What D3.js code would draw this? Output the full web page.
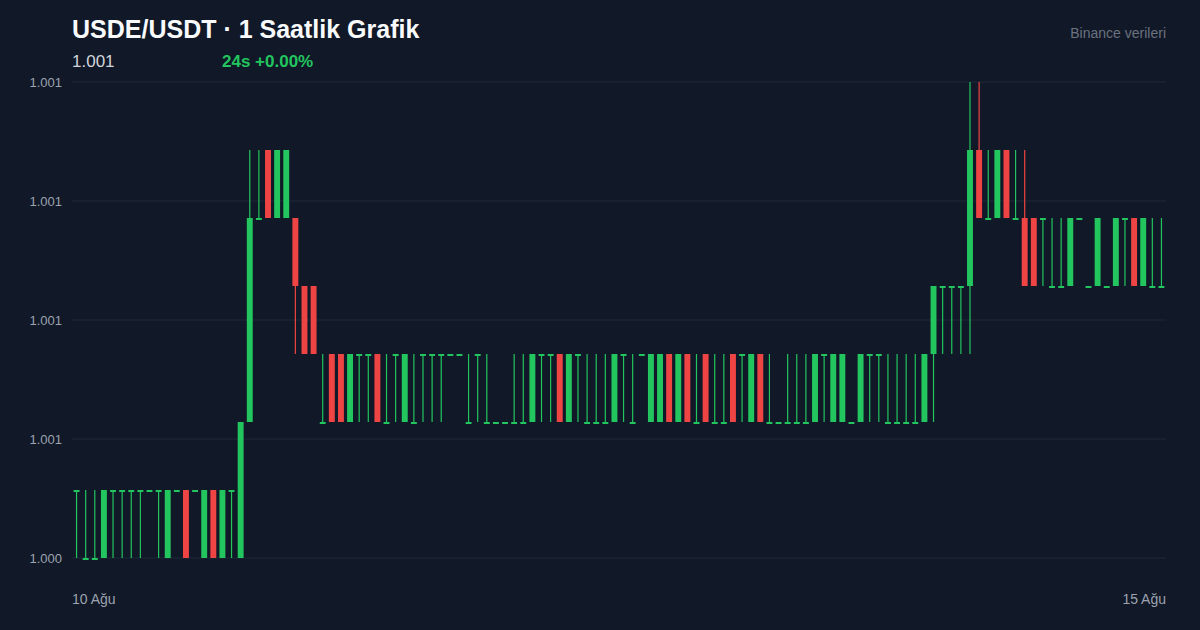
<!DOCTYPE html>
<html>
<head>
<meta charset="utf-8">
<script src="https://cdn.jsdelivr.net/npm/d3@7"></script>
<style>
  html, body { margin: 0; padding: 0; background: #111827; }
  svg { display: block; }
</style>
</head>
<body>
<svg id="chart" width="1200" height="630"></svg>
<script>
// ---- Data (USDE/USDT hourly candles, 10–15 Aug) ----
const opens = [
  1.0005,1.0004,1.0004,1.0004,1.0005,1.0005,1.0005,1.0005,1.0005,1.0005,
  1.0004,1.0005,1.0005,1.0005,1.0004,1.0005,1.0004,1.0005,1.0004,1.0006,
  1.0009,1.0010,1.0009,1.0009,1.0009,1.0008,1.0008,1.0006,1.0007,1.0007,
  1.0006,1.0007,1.0007,1.0007,1.0006,1.0007,1.0006,1.0006,1.0007,1.0007,
  1.0007,1.0007,1.0007,1.0006,1.0007,1.0006,1.0006,1.0006,1.0006,1.0006,
  1.0006,1.0007,1.0007,1.0007,1.0006,1.0007,1.0006,1.0006,1.0006,1.0006,
  1.0007,1.0006,1.0007,1.0006,1.0006,1.0007,1.0006,1.0007,1.0006,1.0007,
  1.0006,1.0006,1.0007,1.0007,1.0006,1.0007,1.0006,1.0006,1.0006,1.0006,
  1.0006,1.0006,1.0007,1.0006,1.0006,1.0006,1.0006,1.0007,1.0007,1.0006,
  1.0006,1.0006,1.0006,1.0006,1.0007,1.0008,1.0008,1.0008,1.0008,1.0010,
  1.0009,1.0009,1.0010,1.0009,1.0009,1.0009,1.0009,1.0008,1.0008,1.0008,
  1.0009,1.0008,1.0008,1.0008,1.0008,1.0009,1.0009,1.0008,1.0008,1.0008
];
const closes = [
  1.0005,1.0004,1.0004,1.0005,1.0005,1.0005,1.0005,1.0005,1.0005,1.0005,
  1.0005,1.0005,1.0004,1.0005,1.0005,1.0004,1.0005,1.0005,1.0006,1.0009,
  1.0009,1.0009,1.0010,1.0010,1.0008,1.0007,1.0007,1.0006,1.0006,1.0006,
  1.0007,1.0007,1.0007,1.0006,1.0006,1.0007,1.0007,1.0006,1.0007,1.0007,
  1.0007,1.0007,1.0007,1.0006,1.0007,1.0006,1.0006,1.0006,1.0006,1.0006,
  1.0007,1.0007,1.0007,1.0006,1.0007,1.0007,1.0006,1.0006,1.0006,1.0007,
  1.0007,1.0006,1.0007,1.0007,1.0007,1.0006,1.0007,1.0006,1.0006,1.0006,
  1.0006,1.0006,1.0006,1.0007,1.0007,1.0006,1.0006,1.0006,1.0006,1.0006,
  1.0006,1.0007,1.0007,1.0007,1.0007,1.0006,1.0007,1.0007,1.0007,1.0006,
  1.0006,1.0006,1.0006,1.0007,1.0008,1.0008,1.0008,1.0008,1.0010,1.0009,
  1.0009,1.0010,1.0009,1.0009,1.0008,1.0008,1.0009,1.0008,1.0008,1.0009,
  1.0009,1.0008,1.0009,1.0008,1.0009,1.0009,1.0008,1.0009,1.0008,1.0008
];
const highs = [
  1.0005,1.0005,1.0005,1.0005,1.0005,1.0005,1.0005,1.0005,1.0005,1.0005,
  1.0005,1.0005,1.0005,1.0005,1.0005,1.0005,1.0005,1.0005,1.0006,1.0010,
  1.0010,1.0010,1.0010,1.0010,1.0009,1.0008,1.0008,1.0007,1.0007,1.0007,
  1.0007,1.0007,1.0007,1.0007,1.0007,1.0007,1.0007,1.0007,1.0007,1.0007,
  1.0007,1.0007,1.0007,1.0007,1.0007,1.0007,1.0006,1.0006,1.0007,1.0007,
  1.0007,1.0007,1.0007,1.0007,1.0007,1.0007,1.0007,1.0007,1.0007,1.0007,
  1.0007,1.0007,1.0007,1.0007,1.0007,1.0007,1.0007,1.0007,1.0007,1.0007,
  1.0007,1.0007,1.0007,1.0007,1.0007,1.0007,1.0007,1.0006,1.0007,1.0007,
  1.0007,1.0007,1.0007,1.0007,1.0007,1.0006,1.0007,1.0007,1.0007,1.0007,
  1.0007,1.0007,1.0007,1.0007,1.0008,1.0008,1.0008,1.0008,1.0011,1.0011,
  1.0010,1.0010,1.0010,1.0010,1.0010,1.0009,1.0009,1.0009,1.0009,1.0009,
  1.0009,1.0008,1.0009,1.0008,1.0009,1.0009,1.0009,1.0009,1.0009,1.0009
];
const lows = [
  1.0004,1.0004,1.0004,1.0004,1.0004,1.0004,1.0004,1.0004,1.0005,1.0004,
  1.0004,1.0005,1.0004,1.0005,1.0004,1.0004,1.0004,1.0004,1.0004,1.0006,
  1.0009,1.0009,1.0009,1.0009,1.0007,1.0007,1.0007,1.0006,1.0006,1.0006,
  1.0006,1.0006,1.0006,1.0006,1.0006,1.0006,1.0006,1.0006,1.0006,1.0006,
  1.0006,1.0007,1.0007,1.0006,1.0006,1.0006,1.0006,1.0006,1.0006,1.0006,
  1.0006,1.0006,1.0006,1.0006,1.0006,1.0006,1.0006,1.0006,1.0006,1.0006,
  1.0006,1.0006,1.0007,1.0006,1.0006,1.0006,1.0006,1.0006,1.0006,1.0006,
  1.0006,1.0006,1.0006,1.0006,1.0006,1.0006,1.0006,1.0006,1.0006,1.0006,
  1.0006,1.0006,1.0006,1.0006,1.0006,1.0006,1.0006,1.0006,1.0006,1.0006,
  1.0006,1.0006,1.0006,1.0006,1.0006,1.0007,1.0007,1.0007,1.0007,1.0009,
  1.0009,1.0009,1.0009,1.0009,1.0008,1.0008,1.0008,1.0008,1.0008,1.0008,
  1.0009,1.0008,1.0008,1.0008,1.0008,1.0008,1.0008,1.0008,1.0008,1.0008
];
const yTicks = [1.0004, 1.000575, 1.00075, 1.000925, 1.0011];
const xLabels = ["10 Ağu", "15 Ağu"];
const titleText = "USDE/USDT · 1 Saatlik Grafik";
const lastPriceText = "1.001";
const changeText = "24s +0.00%";
const sourceText = "Binance verileri";

// ---- Layout ----
const svg = d3.select("#chart");
const plotL = 72, plotR = 1166, plotT = 82, plotB = 558;
const GREEN = "#22c55e", RED = "#ef4444";
const FONT = "Liberation Sans, Arial, sans-serif";

const idx = d3.range(opens.length);
const x = d3.scaleBand().domain(idx).range([plotL, plotR]).paddingInner(0.35).paddingOuter(0.175);
const y = d3.scaleLinear().domain([1.0004, 1.0011]).range([plotB, plotT]);

// grid
svg.append("g").selectAll("line").data(yTicks).join("line")
  .attr("x1", plotL).attr("x2", plotR)
  .attr("y1", d => y(d)).attr("y2", d => y(d))
  .attr("stroke", "#1f2937").attr("stroke-width", 1);

// y labels
svg.append("g").selectAll("text").data(yTicks).join("text")
  .attr("x", 62).attr("y", d => y(d)).attr("dy", "0.35em")
  .attr("text-anchor", "end")
  .attr("font-family", FONT)
  .attr("font-size", 13).attr("fill", "#9ca3af")
  .text(d => d.toFixed(3));

// candles
const candles = svg.append("g").selectAll("g").data(idx).join("g");
const col = i => closes[i] >= opens[i] ? GREEN : RED;
candles.append("line")
  .attr("x1", i => x(i) + x.bandwidth() / 2)
  .attr("x2", i => x(i) + x.bandwidth() / 2)
  .attr("y1", i => y(highs[i])).attr("y2", i => y(lows[i]))
  .attr("stroke", col).attr("stroke-width", 1.2);
candles.append("rect")
  .attr("x", i => x(i))
  .attr("width", x.bandwidth())
  .attr("y", i => y(Math.max(opens[i], closes[i])))
  .attr("height", i => Math.max(2, Math.abs(y(opens[i]) - y(closes[i]))))
  .attr("fill", col);

// x labels
svg.append("text").attr("x", plotL).attr("y", 604)
  .attr("font-family", FONT).attr("font-size", 14)
  .attr("fill", "#9ca3af").text(xLabels[0]);
svg.append("text").attr("x", plotR).attr("y", 604).attr("text-anchor", "end")
  .attr("font-family", FONT).attr("font-size", 14)
  .attr("fill", "#9ca3af").text(xLabels[1]);

// header
svg.append("text").attr("x", plotL).attr("y", 38)
  .attr("font-family", FONT).attr("font-size", 25)
  .attr("font-weight", "bold").attr("fill", "#f9fafb").text(titleText);
svg.append("text").attr("x", plotL).attr("y", 67)
  .attr("font-family", FONT).attr("font-size", 17)
  .attr("fill", "#d1d5db").text(lastPriceText);
svg.append("text").attr("x", 222).attr("y", 67)
  .attr("font-family", FONT).attr("font-size", 17)
  .attr("font-weight", "bold").attr("fill", GREEN).text(changeText);
svg.append("text").attr("x", plotR).attr("y", 38).attr("text-anchor", "end")
  .attr("font-family", FONT).attr("font-size", 14)
  .attr("fill", "#6b7280").text(sourceText);
</script>
</body>
</html>
